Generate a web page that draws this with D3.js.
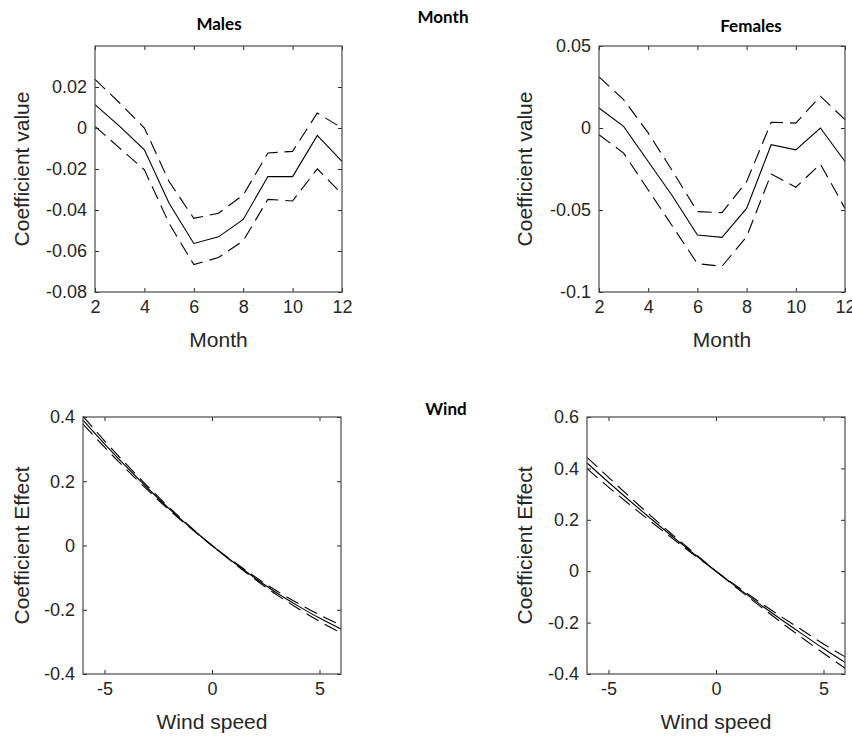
<!DOCTYPE html>
<html>
<head>
<meta charset="utf-8">
<script src="https://cdn.jsdelivr.net/npm/d3@7/dist/d3.min.js"></script>
<style>
  html, body { margin: 0; padding: 0; background: #fff; }
  svg { display: block; }
  .tick text { font-family: "Liberation Sans", Arial, Helvetica, sans-serif; font-size: 18px; fill: #262626; }
  .axlabel { font-family: "Liberation Sans", Arial, Helvetica, sans-serif; font-size: 21px; fill: #262626; }
  .title { font-family: Lato, "Open Sans", sans-serif; font-weight: 700; font-size: 17px; fill: #000; }
</style>
</head>
<body>
<svg id="chart" width="852" height="738"></svg>
<script>
// Month effects (months 2..12): estimate with lower / upper confidence bounds
const months = [2, 3, 4, 5, 6, 7, 8, 9, 10, 11, 12];

const malesMonth      = [0.0114, 0.0008, -0.0106, -0.0367, -0.0563, -0.0531, -0.0446, -0.0237, -0.0237, -0.0036, -0.0163];
const malesMonthUpper = [0.0237, 0.0122, 0.0000, -0.0261, -0.0441, -0.0416, -0.0327, -0.0122, -0.0114, 0.0073, 0.0000];
const malesMonthLower = [0.0008, -0.0098, -0.0204, -0.0465, -0.0666, -0.0632, -0.0550, -0.0348, -0.0356, -0.0199, -0.0322];

const femalesMonth      = [0.0122, 0.0010, -0.0204, -0.0418, -0.0653, -0.0667, -0.0490, -0.0102, -0.0133, 0.0000, -0.0204];
const femalesMonthUpper = [0.0312, 0.0173, -0.0030, -0.0265, -0.0510, -0.0516, -0.0327, 0.0035, 0.0030, 0.0194, 0.0051];
const femalesMonthLower = [-0.0041, -0.0153, -0.0378, -0.0602, -0.0827, -0.0843, -0.0663, -0.0280, -0.0361, -0.0220, -0.0490];

// Wind speed effects
const windSpeed = [-6, -5, -4, -3, -2, -1, 0, 1, 2, 3, 4, 5, 6];

const malesWind      = [0.390, 0.316, 0.246, 0.179, 0.115, 0.056, 0, -0.052, -0.101, -0.147, -0.188, -0.226, -0.260];
const malesWindUpper = [0.402, 0.326, 0.254, 0.185, 0.119, 0.058, 0, -0.050, -0.097, -0.141, -0.180, -0.216, -0.248];
const malesWindLower = [0.378, 0.306, 0.238, 0.173, 0.111, 0.054, 0, -0.054, -0.105, -0.153, -0.196, -0.236, -0.272];

const femalesWind      = [0.421, 0.346, 0.273, 0.202, 0.133, 0.066, 0, -0.064, -0.126, -0.186, -0.244, -0.301, -0.355];
const femalesWindUpper = [0.443, 0.365, 0.288, 0.213, 0.140, 0.070, 0, -0.060, -0.119, -0.175, -0.229, -0.283, -0.333];
const femalesWindLower = [0.399, 0.327, 0.258, 0.191, 0.126, 0.062, 0, -0.068, -0.133, -0.197, -0.259, -0.319, -0.377];

// Tick values
const monthTicks = [2, 4, 6, 8, 10, 12];
const windTicks = [-5, 0, 5];
const malesMonthYTicks = [-0.08, -0.06, -0.04, -0.02, 0, 0.02];
const femalesMonthYTicks = [-0.1, -0.05, 0, 0.05];
const malesWindYTicks = [-0.4, -0.2, 0, 0.2, 0.4];
const femalesWindYTicks = [-0.4, -0.2, 0, 0.2, 0.4, 0.6];

const svg = d3.select("#chart");

const fmt = d => {
  const v = +d.toFixed(4);
  return v === 0 ? "0" : String(v).replace("\u2212", "-");
};

function panel(opt) {
  const { left, top, width, height, xDomain, yDomain, xTicks, yTicks, xs, center, upper, lower, xLabel, yLabel, yLabelX, smooth } = opt;
  const g = svg.append("g").attr("transform", `translate(${left},${top})`);
  const x = d3.scaleLinear().domain(xDomain).range([0, width]);
  const y = d3.scaleLinear().domain(yDomain).range([height, 0]);
  const tick = 4;

  // plot lines
  const line = d3.line().x((d, i) => x(xs[i])).y(d => y(d));
  if (smooth) line.curve(d3.curveMonotoneX);
  const lines = g.append("g");
  [[upper, "14,7"], [lower, "14,7"], [center, null]].forEach(([vals, dash]) => {
    lines.append("path")
      .attr("d", line(vals))
      .attr("fill", "none")
      .attr("stroke", "#000")
      .attr("stroke-width", 1.1)
      .attr("stroke-dasharray", dash);
  });

  // axes with inward ticks on all four sides
  const style = sel => {
    sel.select(".domain").remove();
    sel.selectAll(".tick line").attr("stroke", "#262626");
  };
  g.append("g").attr("transform", `translate(0,${height})`)
    .call(d3.axisBottom(x).tickValues(xTicks).tickSize(-tick).tickPadding(8).tickFormat(fmt))
    .call(style);
  g.append("g")
    .call(d3.axisTop(x).tickValues(xTicks).tickSize(-tick).tickFormat(""))
    .call(style);
  g.append("g")
    .call(d3.axisLeft(y).tickValues(yTicks).tickSize(-tick).tickPadding(8).tickFormat(fmt))
    .call(style);
  g.append("g").attr("transform", `translate(${width},0)`)
    .call(d3.axisRight(y).tickValues(yTicks).tickSize(-tick).tickFormat(""))
    .call(style);
  g.selectAll(".tick text").attr("font-family", null).attr("font-size", null).attr("fill", null);

  g.append("rect")
    .attr("x", 0).attr("y", 0).attr("width", width).attr("height", height)
    .attr("fill", "none").attr("stroke", "#4a4a4a").attr("stroke-width", 1.2);

  g.append("text").attr("class", "axlabel")
    .attr("x", width / 2).attr("y", height + 55)
    .attr("text-anchor", "middle").text(xLabel);
  g.append("text").attr("class", "axlabel")
    .attr("transform", `translate(${yLabelX - left},${height / 2}) rotate(-90)`)
    .attr("text-anchor", "middle").text(yLabel);
}

panel({
  left: 95, top: 46, width: 247, height: 246,
  xDomain: [2, 12], yDomain: [-0.08, 0.04], xTicks: monthTicks, yTicks: malesMonthYTicks,
  xs: months, center: malesMonth, upper: malesMonthUpper, lower: malesMonthLower,
  xLabel: "Month", yLabel: "Coefficient value", yLabelX: 29
});
panel({
  left: 599, top: 46, width: 246, height: 246,
  xDomain: [2, 12], yDomain: [-0.1, 0.05], xTicks: monthTicks, yTicks: femalesMonthYTicks,
  xs: months, center: femalesMonth, upper: femalesMonthUpper, lower: femalesMonthLower,
  xLabel: "Month", yLabel: "Coefficient value", yLabelX: 532
});
panel({
  left: 83, top: 417, width: 258, height: 257,
  xDomain: [-6, 6], yDomain: [-0.4, 0.4], xTicks: windTicks, yTicks: malesWindYTicks,
  xs: windSpeed, center: malesWind, upper: malesWindUpper, lower: malesWindLower,
  xLabel: "Wind speed", yLabel: "Coefficient Effect", yLabelX: 29, smooth: true
});
panel({
  left: 587, top: 417, width: 258, height: 257,
  xDomain: [-6, 6], yDomain: [-0.4, 0.6], xTicks: windTicks, yTicks: femalesWindYTicks,
  xs: windSpeed, center: femalesWind, upper: femalesWindUpper, lower: femalesWindLower,
  xLabel: "Wind speed", yLabel: "Coefficient Effect", yLabelX: 532, smooth: true
});

// titles
const titles = [
  { text: "Males", x: 219, y: 30 },
  { text: "Month", x: 443, y: 23 },
  { text: "Females", x: 751, y: 32 },
  { text: "Wind", x: 446, y: 415 }
];
svg.selectAll("text.title").data(titles).join("text")
  .attr("class", "title")
  .attr("x", d => d.x).attr("y", d => d.y)
  .attr("text-anchor", "middle")
  .text(d => d.text);
</script>
</body>
</html>
